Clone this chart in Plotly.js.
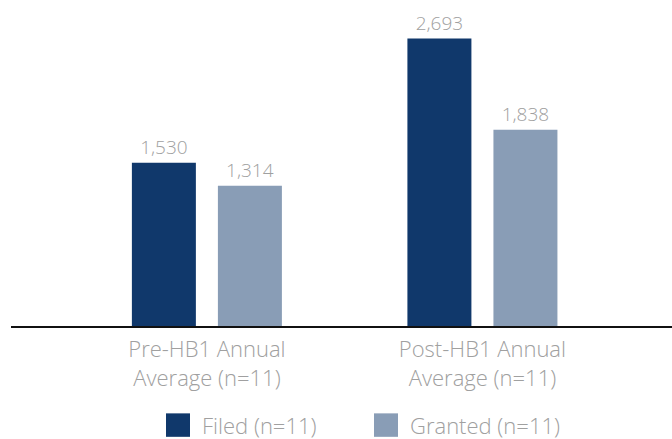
<!DOCTYPE html>
<html>
<head>
<meta charset="utf-8">
<script src="https://cdn.plot.ly/plotly-3.0.1.min.js"></script>
<style>html,body{margin:0;padding:0;background:#fff;}#chart{width:672px;height:439px;}</style>
</head>
<body>
<div id="chart"></div>
<script>
const categories = ["Pre-HB1 Annual<br>Average (n=11)", "Post-HB1 Annual<br>Average (n=11)"];
const seriesNames = ["Filed (n=11)", "Granted (n=11)"];
const filed = [1530, 2693];
const granted = [1314, 1838];
const colors = ["#10386b", "#899db6"];

const font = "'Open Sans', sans-serif";
const grey = "#a0a0a0";

function fmt(v){ return v.toLocaleString('en-US'); }

const traces = [
  {type:'bar', name:seriesNames[0], x:categories, y:filed, marker:{color:colors[0]},
   width:0.2323, offset:-0.2723, text:filed.map(fmt), textposition:'outside',
   textfont:{family:font, size:19, color:grey, weight:300}, cliponaxis:false, hoverinfo:'none'},
  {type:'bar', name:seriesNames[1], x:categories, y:granted, marker:{color:colors[1]},
   width:0.2323, offset:0.0399, text:granted.map(fmt), textposition:'outside',
   textfont:{family:font, size:19, color:grey, weight:300}, cliponaxis:false, hoverinfo:'none'}
];

const shapes = [];
const annotations = [];
const legX = [166, 374];
const legTextX = [201, 409];
for (let i=0;i<2;i++){
  shapes.push({type:'rect', xref:'paper', yref:'paper', layer:'above',
    x0:(legX[i]-11)/661, x1:(legX[i]+24-11)/661, y0:(326.5-437.5)/316.5, y1:(326.5-414)/316.5,
    fillcolor:colors[i], line:{width:0}});
  annotations.push({xref:'paper', yref:'paper', x:(legTextX[i]-11)/661, y:(326.5-426)/316.5,
    xanchor:'left', yanchor:'middle', text:seriesNames[i], showarrow:false, borderpad:0,
    font:{family:font, size:22, color:grey, weight:300}});
}

const layout = {
  width:672, height:439,
  margin:{l:11, r:0, t:10, b:112.5},
  paper_bgcolor:'#fff', plot_bgcolor:'#fff',
  showlegend:false,
  barmode:'group',
  xaxis:{type:'category', range:[-0.711, 1.688], showline:true, linecolor:'#111', linewidth:1.5,
    ticks:'', showgrid:false, zeroline:false, fixedrange:true, ticklabelstandoff:3,
    tickfont:{family:font, size:22, color:grey, weight:300}},
  yaxis:{range:[0, 2960], visible:false, showgrid:false, zeroline:false, fixedrange:true},
  shapes:shapes, annotations:annotations
};

Plotly.newPlot('chart', traces, layout, {displayModeBar:false, staticPlot:true});
</script>
</body>
</html>
